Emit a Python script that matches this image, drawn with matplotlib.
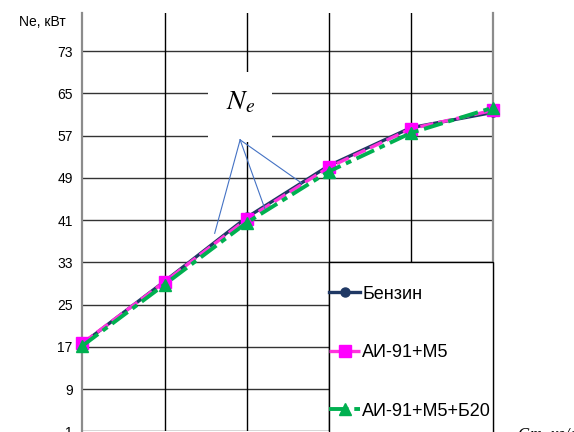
import matplotlib
matplotlib.use("Agg")
import matplotlib.pyplot as plt
from matplotlib.patches import Rectangle

# Engine power versus fuel consumption for three fuels
x_points = [0, 1, 2, 3, 4, 5]
benzin = [17.6, 29.4, 41.5, 51.3, 58.5, 61.4]
ai91_m5 = [17.7, 29.3, 41.2, 51.0, 58.3, 61.8]
ai91_m5_b20 = [17.2, 28.8, 40.5, 50.2, 57.5, 62.3]

series_labels = ["Бензин", "АИ-91+М5", "АИ-91+М5+Б20"]
y_ticks = [1, 9, 17, 25, 33, 41, 49, 57, 65, 73]
y_label = "Ne, кВт"
x_label = "Gт, кг/с"

# callout from the "N_e" caption to the curves
callout_origin = (1.92, 56.2)
callout_targets = [(1.61, 38.5), (2.22, 43.2), (2.67, 48.0)]

plt.rcParams["font.family"] = ["Liberation Sans Narrow", "Liberation Sans", "DejaVu Sans"]
plt.rcParams["mathtext.fontset"] = "stix"

fig = plt.figure(figsize=(5.74, 4.32), dpi=100)
ax = fig.add_axes([0.1437, 0.0016, 0.7152, 0.968])

ax.set_xlim(0, 5)
ax.set_ylim(1, 80.2)

# grid
for yt in y_ticks:
    ax.axhline(yt, color="#333333", lw=1.0, zorder=1)
for xt in x_points[1:-1]:
    ax.axvline(xt, color="#000000", lw=1.0, zorder=1)

for side in ["top", "bottom"]:
    ax.spines[side].set_visible(False)
for side in ["left", "right"]:
    ax.spines[side].set_color("#8c8c8c")
    ax.spines[side].set_linewidth(1.6)
    ax.spines[side].set_zorder(2)

ax.set_xticks([])
ax.set_yticks(y_ticks)
ax.tick_params(axis="y", length=0, pad=7, labelsize=10)

ax.plot(x_points, benzin, color="#1F3864", lw=2.4, marker="o", ms=6.5,
        label=series_labels[0], zorder=4, clip_on=False)
ax.plot(x_points, ai91_m5, color="#FF33DD", lw=2.4, ls=(0, (4, 1.5)),
        marker="s", ms=8.5, mfc="#FF00FF", mec="#FF00FF",
        label=series_labels[1], zorder=5, clip_on=False)
ax.plot(x_points, ai91_m5_b20, color="#00B050", lw=2.8, ls=(0, (5, 1.5, 1.5, 1.5)),
        marker="^", ms=9, label=series_labels[2], zorder=6, clip_on=False)

# caption box with callout lines
ax.add_patch(Rectangle((1.53, 55.7), 0.78, 13.3, facecolor="white",
                       edgecolor="none", zorder=3))
ax.text(1.92, 63.3, r"$N_e$", fontsize=20, ha="center", va="center", zorder=7)
for tx, ty in callout_targets:
    ax.plot([callout_origin[0], tx], [callout_origin[1], ty],
            color="#4472C4", lw=0.8, zorder=7)

# legend panel
ax.add_patch(Rectangle((3, -5), 2, 38, facecolor="white", edgecolor="black",
                       lw=1.0, zorder=8, clip_on=False))
leg = ax.legend(loc="upper left", bbox_to_anchor=(3.0, 28.6),
                bbox_transform=ax.transData, frameon=False, fontsize=13,
                handlelength=1.75, handletextpad=0.1, labelspacing=2.3,
                borderaxespad=0, borderpad=0)
leg.set_zorder(9)

fig.text(0.033, 0.948, y_label, fontsize=10, ha="left", va="center")
fig.text(0.903, 0.012, x_label, fontsize=12, ha="left", va="top",
         family="Liberation Serif", style="italic")

fig.savefig("out.png", dpi=100)
